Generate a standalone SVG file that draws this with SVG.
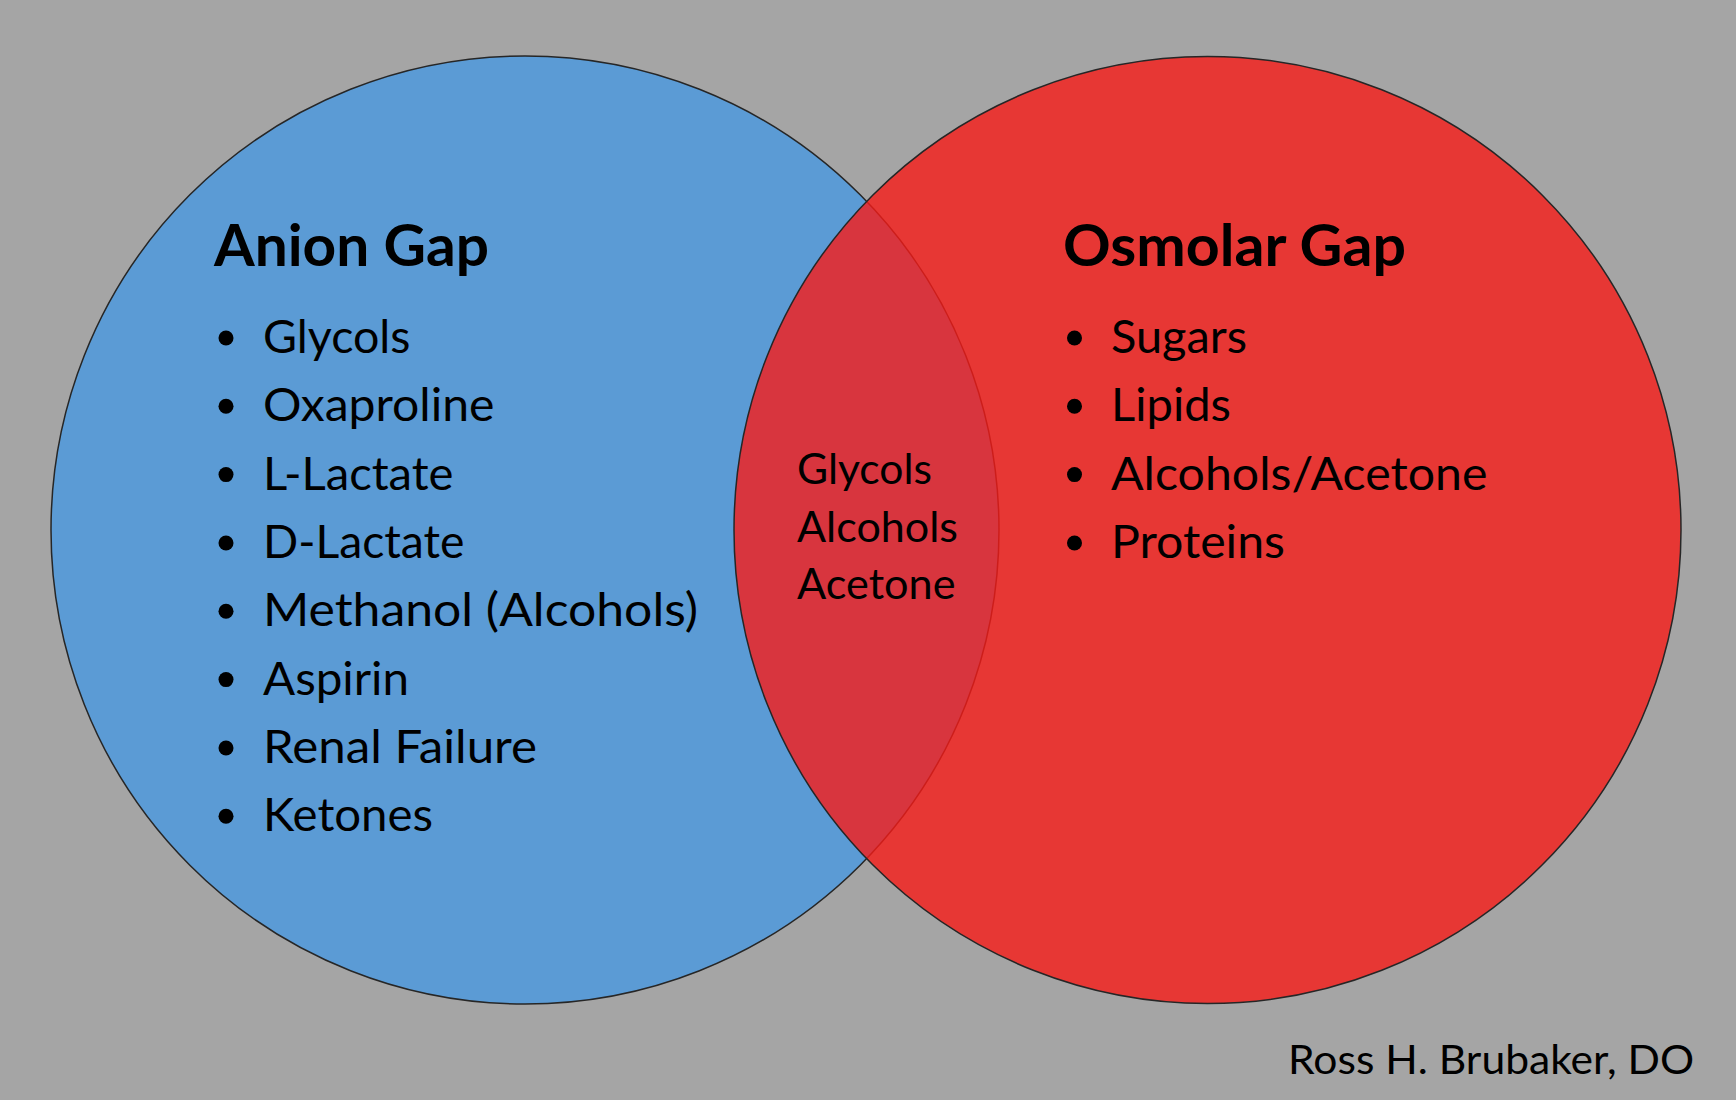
<svg xmlns="http://www.w3.org/2000/svg" width="1736" height="1100" viewBox="0 0 1736 1100">
<style>
.t{font-family:Lato,"Open Sans","Liberation Sans",sans-serif;fill:#000}
.h{font-size:57px;font-weight:700}
.i{font-size:46px}
.m{font-size:43px}
.a{font-size:40px}
.b{fill:#000}
</style>
<rect x="0" y="0" width="1736" height="1100" fill="#A5A5A5"/>
<g id="anion-gap">
<circle cx="525" cy="530" r="474" fill="#5B9BD5" stroke="#262626" stroke-width="1.5"/>
</g>
<g id="osmolar-gap">
<circle cx="1207.5" cy="530" r="473.5" fill="rgb(248,28,24)" fill-opacity="0.8" stroke="#262626" stroke-width="1.5"/>
</g>
<g id="connectors"></g>
<g id="anion-gap-text">
<text class="t h" x="214" y="266" textLength="275" lengthAdjust="spacingAndGlyphs">Anion Gap</text>
<g class="b">
<circle cx="226" cy="338" r="7.5"/><circle cx="226" cy="406.3" r="7.5"/><circle cx="226" cy="474.6" r="7.5"/><circle cx="226" cy="543" r="7.5"/><circle cx="226" cy="611.3" r="7.5"/><circle cx="226" cy="679.6" r="7.5"/><circle cx="226" cy="748" r="7.5"/><circle cx="226" cy="816.3" r="7.5"/>
</g>
<text class="t i" x="263" y="353" textLength="147.5" lengthAdjust="spacingAndGlyphs">Glycols</text>
<text class="t i" x="263" y="421.3" textLength="231.5" lengthAdjust="spacingAndGlyphs">Oxaproline</text>
<text class="t i" x="263" y="489.6" textLength="190.5" lengthAdjust="spacingAndGlyphs">L-Lactate</text>
<text class="t i" x="263" y="558" textLength="201.5" lengthAdjust="spacingAndGlyphs">D-Lactate</text>
<text class="t i" x="263" y="626.3" textLength="435" lengthAdjust="spacingAndGlyphs">Methanol (Alcohols)</text>
<text class="t i" x="263" y="694.6" textLength="146" lengthAdjust="spacingAndGlyphs">Aspirin</text>
<text class="t i" x="263" y="763" textLength="274" lengthAdjust="spacingAndGlyphs">Renal Failure</text>
<text class="t i" x="263" y="831.3" textLength="170" lengthAdjust="spacingAndGlyphs">Ketones</text>
</g>
<g id="overlap">
<text class="t m" x="797" y="484" textLength="135" lengthAdjust="spacingAndGlyphs">Glycols</text>
<text class="t m" x="797" y="541.5" textLength="161" lengthAdjust="spacingAndGlyphs">Alcohols</text>
<text class="t m" x="797" y="599" textLength="158.5" lengthAdjust="spacingAndGlyphs">Acetone</text>
</g>
<g id="osmolar-gap-text">
<text class="t h" x="1063" y="266" textLength="343" lengthAdjust="spacingAndGlyphs">Osmolar Gap</text>
<g class="b">
<circle cx="1074.5" cy="338" r="7.5"/><circle cx="1074.5" cy="406.3" r="7.5"/><circle cx="1074.5" cy="474.6" r="7.5"/><circle cx="1074.5" cy="543" r="7.5"/>
</g>
<text class="t i" x="1111" y="353" textLength="136" lengthAdjust="spacingAndGlyphs">Sugars</text>
<text class="t i" x="1111" y="421.3" textLength="120" lengthAdjust="spacingAndGlyphs">Lipids</text>
<text class="t i" x="1111" y="489.6" textLength="376.5" lengthAdjust="spacingAndGlyphs">Alcohols/Acetone</text>
<text class="t i" x="1111" y="558" textLength="174" lengthAdjust="spacingAndGlyphs">Proteins</text>
</g>
<g id="author">
<text class="t a" x="1288" y="1074" textLength="406" lengthAdjust="spacingAndGlyphs">Ross H. Brubaker, DO</text>
</g>
</svg>
